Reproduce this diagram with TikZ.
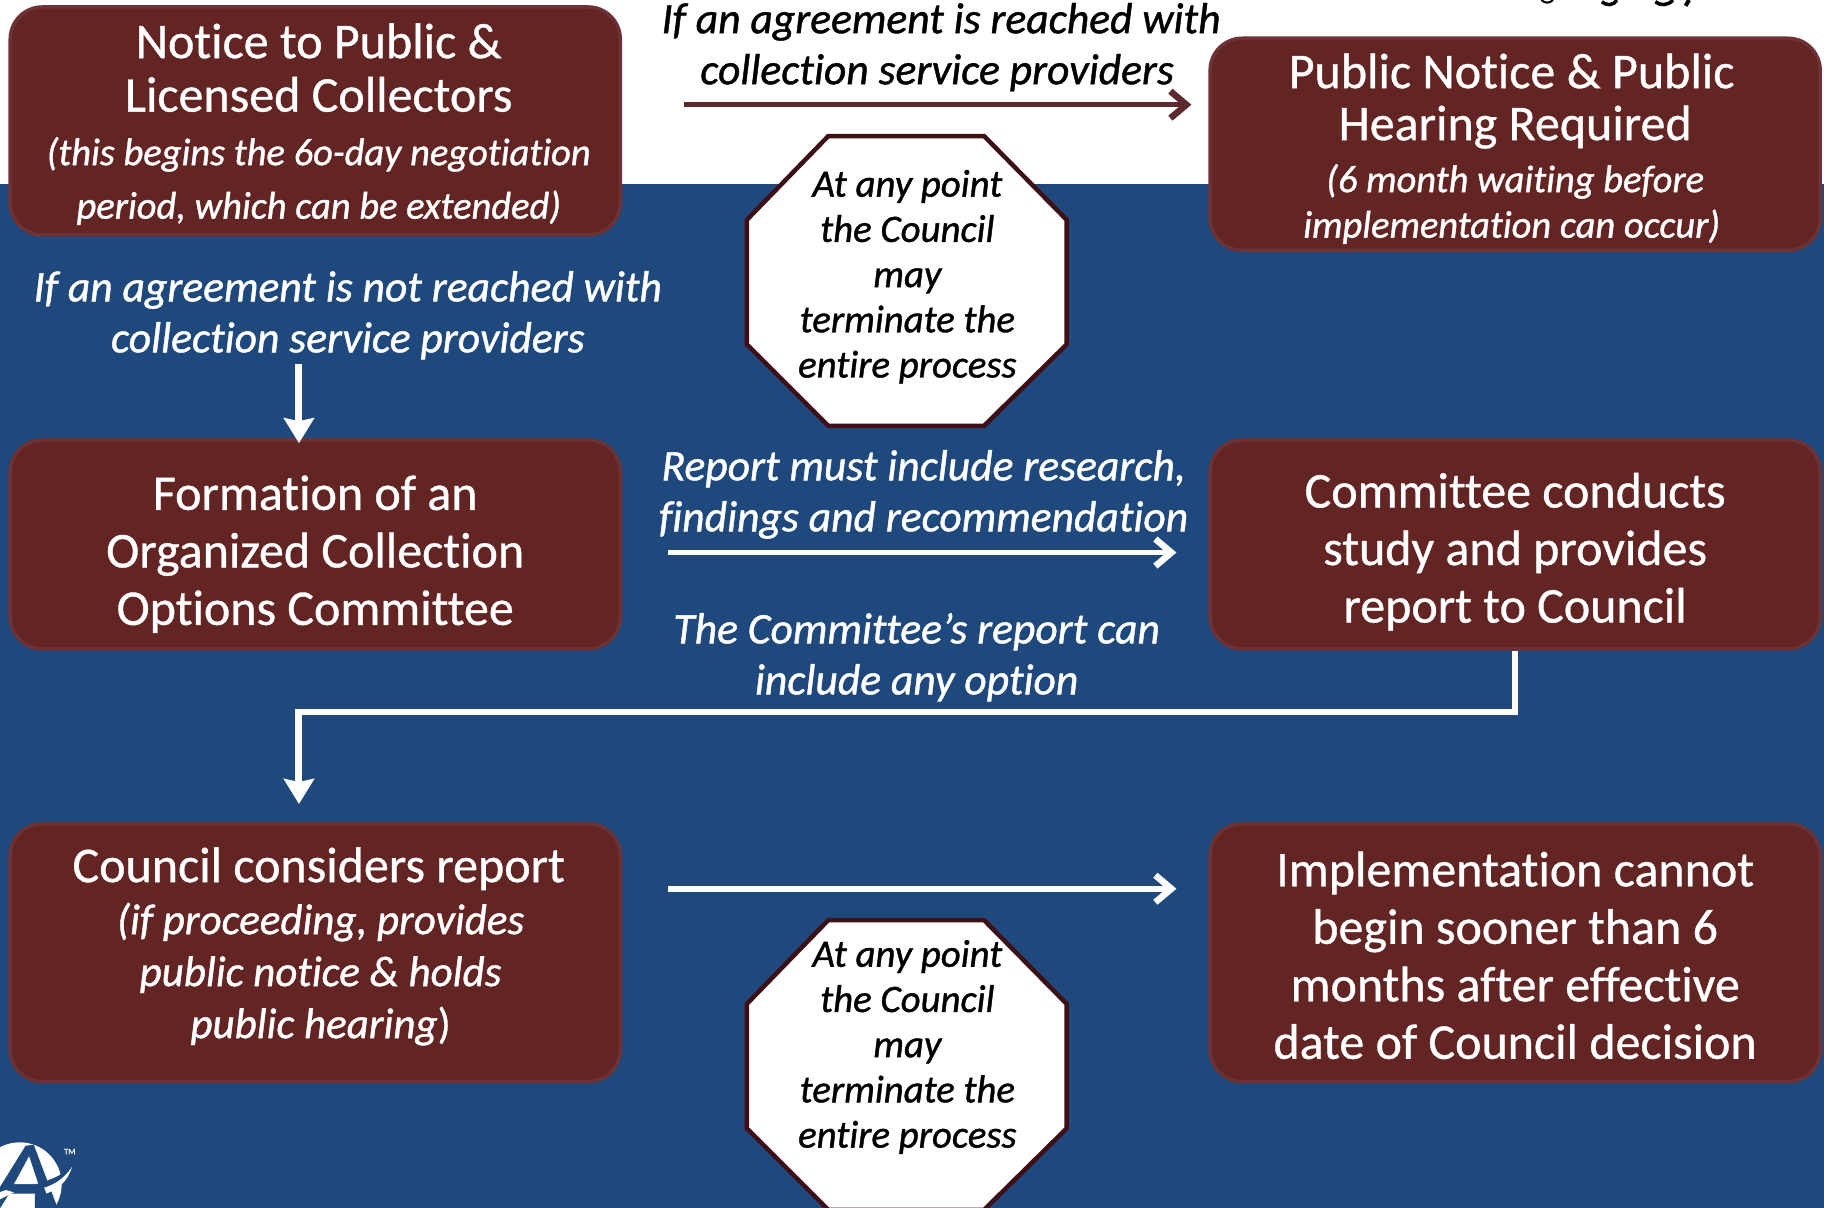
\documentclass[tikz,border=0pt]{standalone}
\usepackage{fontspec}
\setmainfont{Carlito}[Ligatures=NoCommon,ItalicFeatures={FakeBold=1.0},UprightFeatures={FakeBold=0.7}]
\usetikzlibrary{arrows.meta,calc}
\definecolor{bgblue}{HTML}{1F497D}
\definecolor{maroon}{HTML}{632523}
\definecolor{maroonedge}{HTML}{6C3236}
\definecolor{octedge}{HTML}{3D0F16}
\definecolor{toparrow}{HTML}{5C2A2E}
\newcommand{\itl}[1][38.5]{\fontsize{#1}{\baselineskip}\selectfont\itshape}
\newcommand{\tp}[1]{\rule{0pt}{#1pt}}
\tikzset{
  procbox/.style={draw=maroonedge,fill=maroon,line width=3.5pt,rounded corners=32pt,text=white,align=center,inner sep=0pt,font=\fontsize{50}{#1}\selectfont},
  procbox/.default=57.5,
  lab/.style={align=center,inner sep=0pt,font=\fontsize{43.6}{51}\selectfont\itshape},
  octtext/.style={align=center,inner sep=0pt,text=black,font=\fontsize{38.8}{45.2}\selectfont\itshape},
  octshape/.style={draw=octedge,fill=white,line width=4.5pt,miter limit=10},
  barbtip/.style={-{Straight Barb[length=16pt,width=27pt,line width=6.5pt]}},
  wharrow/.style={draw=white,line width=5.5pt,barbtip},
  wdown/.style={draw=white,line width=7pt,-{Stealth[length=25pt,width=30pt,inset=3pt]}},
}
\begin{document}
\begin{tikzpicture}[x=1.16327pt,y=-1.16327pt]
\useasboundingbox (0,0) rectangle (1568,1038.4);
\clip (0,0) rectangle (1568,1038.4);
\fill[white] (0,0) rectangle (1568,1038.4);
\fill[bgblue] (0,158) rectangle (1568,1038.4);
% clipped descenders of a line cut off at the top edge
\draw[black,line width=2pt] (1325,0) .. controls (1328,3) and (1332,3) .. (1335,0);
\draw[black,line width=3.5pt] (1377,1.5) .. controls (1381,5) and (1387,5) .. (1390,0);
\draw[black,line width=3.5pt] (1423,1.5) .. controls (1427,5) and (1434,5) .. (1438,0);
\draw[black,line width=4pt] (1452,0) -- (1449,5);
% logo
\fill[white] (17,1018) circle (36);
\fill[bgblue] (-6,1030) -- (22,985) -- (29,984) -- (52,1045) -- (38,1045) -- (33,1026) -- (8,1026) -- (-4,1045) -- cycle;
\fill[white] (12,1018) -- (25,994) -- (33,1018) -- cycle;
\fill[bgblue] (-6,1026) .. controls (20,1020) and (45,1018) .. (63,1002) .. controls (58,1016) and (50,1022) .. (39,1025) .. controls (43,1030) and (44,1034) .. (46,1045) -- (30,1045) -- (30,1024) -- cycle;
\fill[white] (40,1026) .. controls (50,1022) and (58,1016) .. (62,1003) .. controls (56,1012) and (48,1018) .. (38,1021) -- cycle;
\fill[white] (12,1025) -- (-6,1034) -- (-6,1027) -- (5,1023) -- cycle;
\node[inner sep=0pt,text=white,font=\fontsize{8.5}{8.5}\selectfont] (tm) at (60,990) {TM};
% boxes
\node[procbox=53.5,minimum width=610pt,minimum height=228pt] (b1) at (271,104)
 {\tp{41}\hspace*{7pt}Notice to Public \&\\\hspace*{7pt}Licensed Collectors\\\hspace*{7pt}\itl (this begins the 6o-day negotiation\\\hspace*{7pt}\itl period, which can be extended)};
\node[procbox=52,minimum width=610pt,minimum height=212pt] (b2) at (1302.5,124)
 {\tp{43.5}Public Notice \& Public\hspace*{7pt}\\Hearing Required\hspace*{7pt}\\\itl (6 month waiting before\hspace*{14pt}\\[-6.5pt]\itl implementation can occur)\hspace*{7pt}};
\node[procbox,minimum width=610pt,minimum height=209pt] (b3) at (271,468)
 {\tp{54}Formation of an\\Organized Collection\\Options Committee};
\node[procbox,minimum width=610pt,minimum height=209pt] (b4) at (1302.5,468)
 {\tp{49.3}Committee conducts\\study and provides\\report to Council};
\node[procbox=52,minimum width=610pt,minimum height=258pt] (b5) at (271,819)
 {\hspace*{7pt}Council considers report\\\hspace*{1pt}\itl[43] (if proceeding, provides\\\hspace*{1pt}\itl[43] public notice \& holds\\\hspace*{1pt}\itl[43] public hearing\textup{)}\rule[-20pt]{0pt}{20pt}};
\node[procbox,minimum width=610pt,minimum height=258pt] (b6) at (1302.5,819)
 {\tp{40}Implementation cannot\\begin sooner than 6\\months after effective\\date of Council decision};
% octagons
\draw[octshape] (712,117) -- (846,117) -- (917,189) -- (917,296) -- (846,366) -- (712,366) -- (642,296) -- (642,189) -- cycle;
\draw[octshape] (712,791) -- (846,791) -- (917,863) -- (917,970) -- (846,1040) -- (712,1040) -- (642,970) -- (642,863) -- cycle;
\node[octtext] (o1) at (780,238) {At any point\\the Council\\may\\terminate the\\entire process};
\node[octtext] (o2) at (780,900) {At any point\\the Council\\may\\terminate the\\entire process};
% labels
\node[lab,text=black] (l1) at (809,40.5) {If an agreement is reached with\\collection service providers\hspace*{8pt}};
\node[lab,text=white] (l2) at (299,271) {If an agreement is not reached with\\collection service providers};
\node[lab,text=white] (l3) at (794,425) {Report must include research,\\findings and recommendation};
\node[lab,text=white] (l4) at (788,565) {The Committee’s report can\\include any option};
% connectors
\coordinate (y1) at (0,90);\coordinate (y2) at (0,475);\coordinate (y3) at (0,764);
\draw[line width=5.5pt,toparrow,barbtip,shorten <=61.6pt,shorten >=17pt] (b1.east |- y1) -- (b2.west |- y1);
\draw[wharrow,shorten <=46pt,shorten >=32pt] (b3.east |- y2) -- (b4.west |- y2);
\draw[wharrow,shorten <=46pt,shorten >=32pt] (b5.east |- y3) -- (b6.west |- y3);
\coordinate (s1) at (257,313);
\draw[wdown,shorten >=-5pt] (s1) -- (s1 |- b3.north);
\coordinate (bend) at (257,612);
\draw[draw=white,line width=5.5pt,line join=miter] (b4.south) |- (bend);
\draw[wdown,shorten >=18pt] ($(bend)+(0,-2.3)$) -- (bend |- b5.north);
\end{tikzpicture}
\end{document}
